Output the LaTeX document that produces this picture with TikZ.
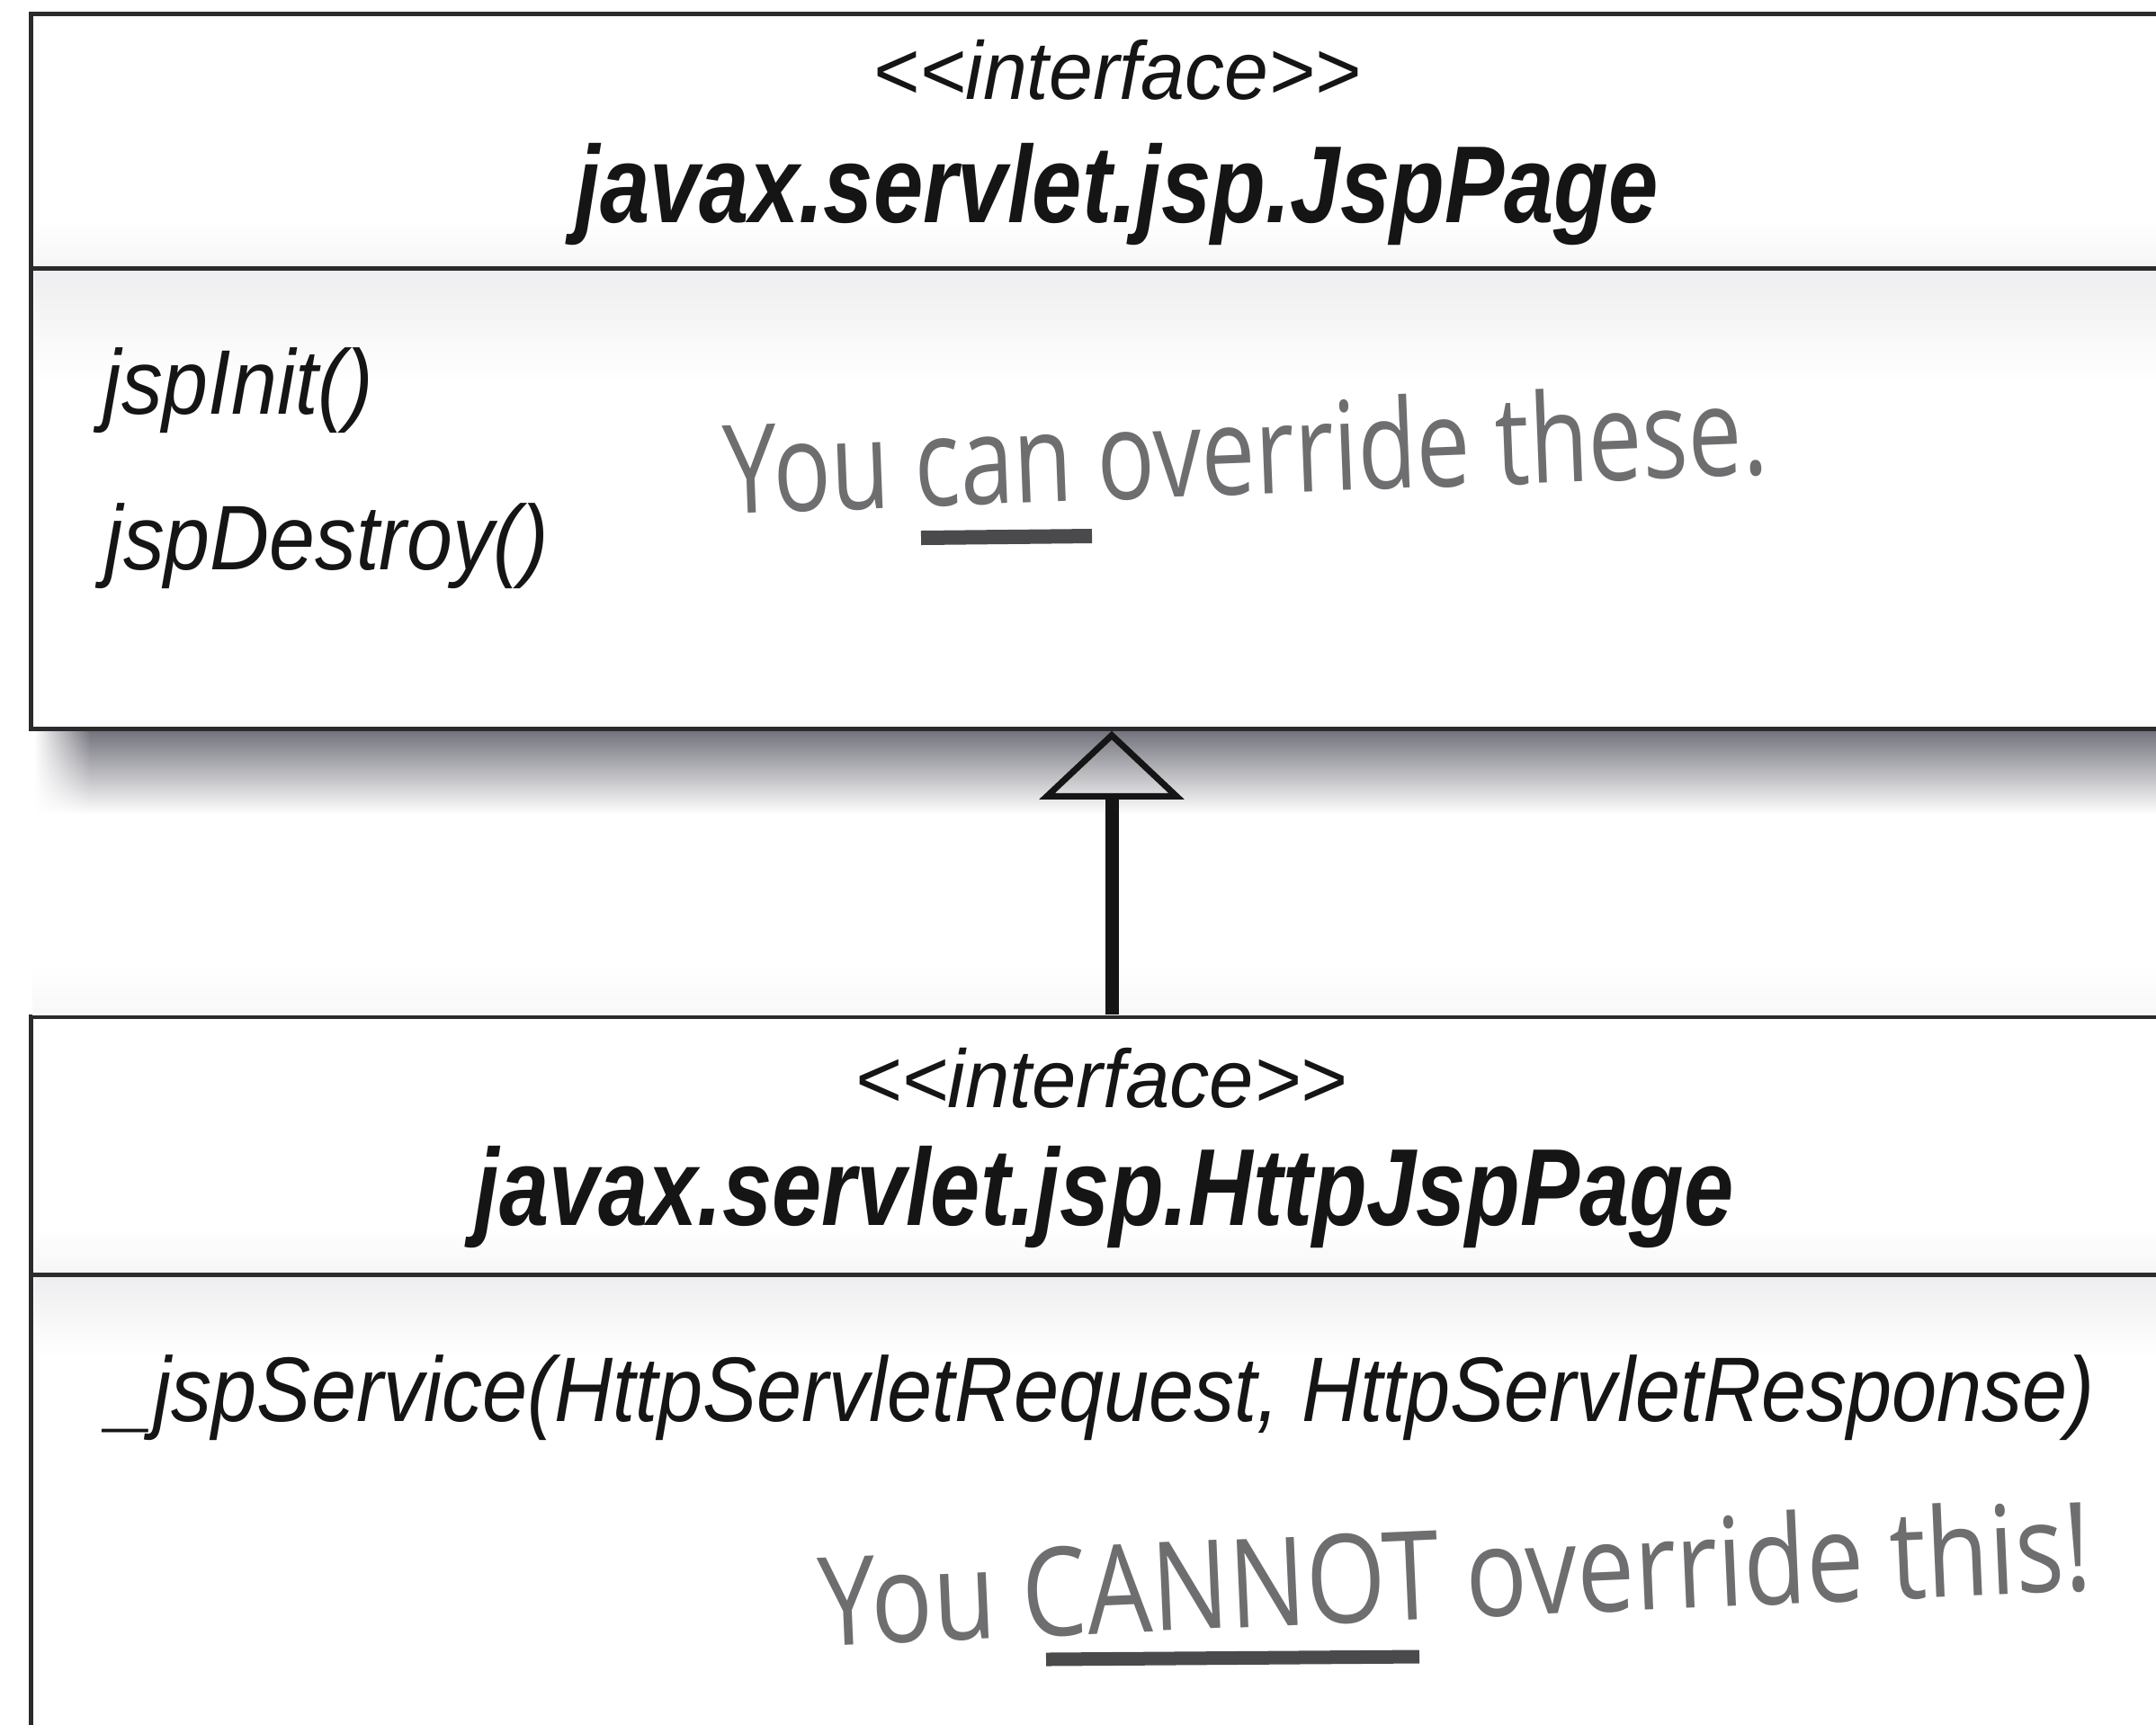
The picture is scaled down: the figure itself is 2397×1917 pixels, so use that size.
\documentclass[tikz,border=0pt]{standalone}
\usepackage{fontspec}
\usepackage{graphicx}
\setmainfont{Liberation Sans}
\newfontfamily\handfont{Open Sans}
\usetikzlibrary{arrows.meta,fadings}
\definecolor{linec}{HTML}{2B2B2E}
\definecolor{inkc}{HTML}{151515}
\definecolor{handc}{HTML}{6E6E70}
\definecolor{ulinec}{HTML}{4A4A4C}
\definecolor{shadowc}{HTML}{74747E}
\definecolor{bandc}{HTML}{EEEEF0}
\newcommand{\lt}{\textless\kern0pt}
\newcommand{\gt}{\textgreater\kern0pt}
\begin{document}
\begin{tikzpicture}[x=0.01cm,y=-0.01cm,
  umlbox/.style={draw=linec, line width=0.05cm, fill=white, rectangle, inner sep=0pt},
  sepline/.style={draw=linec, line width=0.05cm},
  stereo/.style={inner sep=0pt, text=inkc, font=\fontsize{26pt}{28pt}\selectfont\itshape},
  classname/.style={inner sep=0pt, text=inkc, font=\fontsize{34.6pt}{38pt}\selectfont\bfseries\itshape},
  method/.style={inner sep=0pt, text=inkc, font=\fontsize{29pt}{32pt}\selectfont\itshape},
  hand/.style={inner sep=0pt, text=handc, font=\fontsize{39pt}{42pt}\selectfont\handfont},
  uline/.style={draw=ulinec, line width=0.16cm},
  conn/.style={draw=inkc, line width=0.15cm, -{Triangle[open, length=0.76cm, width=1.6cm, line width=0.07cm]}}
]
\useasboundingbox (0,0) rectangle (2397,1917);
\clip (0,0) rectangle (2397,1917);
\fill[white] (0,0) rectangle (2397,1917);

% boxes
\node[umlbox, minimum width=23.85cm, minimum height=7.94cm] (jsppage) at (1227.5,413) {};
\node[umlbox, minimum width=23.85cm, minimum height=8.19cm] (httpjsppage) at (1227.5,1540.5) {};

% shadow under the upper box
\shade[top color=shadowc, bottom color=white] (100,813) rectangle (2397,905);
\shade[top color=shadowc, bottom color=white, path fading=west] (38,813) rectangle (100.5,905);
\shade[top color=white, bottom color=gray!6] (36,1075) rectangle (2397,1128);

% compartment tints
\shade[top color=white, bottom color=gray!7] (38,245) rectangle (2397,295);
\shade[top color=bandc, bottom color=white] (38,301) rectangle (2397,425);
\shade[top color=white, bottom color=gray!7] (38,1365) rectangle (2397,1414);
\shade[top color=bandc, bottom color=white] (38,1420) rectangle (2397,1510);

% separators
\draw[sepline] (jsppage.west |- 0,298) -- (jsppage.east |- 0,298);
\draw[sepline] (httpjsppage.west |- 0,1417) -- (httpjsppage.east |- 0,1417);

% upper class texts
\node[stereo, anchor=base] (st1) at (1242,110) {\resizebox{5.42cm}{\height}{\lt\lt interface\gt\gt}};
\node[classname, anchor=base west] (n1) at (639,247) {\resizebox{12.03cm}{\height}{javax.servlet.jsp.JspPage}};
\node[method, anchor=base west] (m1) at (114,460) {\resizebox{3.0cm}{\height}{jspInit()}};
\node[method, anchor=base west] (m2) at (116,633) {\resizebox{4.93cm}{\height}{jspDestroy()}};
\node[hand, anchor=base west, rotate=2.2] (h1) at (806,572) {\resizebox{11.6cm}{\height}{You can override these.}};
\draw[uline] (1024,598) -- (1214,596);

% lower class texts
\node[stereo, anchor=base] (st2) at (1224,1231) {\resizebox{5.47cm}{\height}{\lt\lt interface\gt\gt}};
\node[classname, anchor=base west] (n2) at (527,1362) {\resizebox{13.99cm}{\height}{javax.servlet.jsp.HttpJspPage}};
\node[method, anchor=base west] (m3) at (120,1580) {\resizebox{22.07cm}{\height}{\_jspService(HttpServletRequest, HttpServletResponse)}};
\node[hand, anchor=base west, rotate=2.5] (h2) at (912,1830) {\resizebox{14.15cm}{\height}{You CANNOT override this!}};
\draw[uline, line width=0.15cm] (1163,1845) -- (1578,1842);

% realization arrow
\coordinate (ax) at (1236,0);
\draw[conn] (httpjsppage.north -| ax) -- (jsppage.south -| ax);
\end{tikzpicture}
\end{document}
